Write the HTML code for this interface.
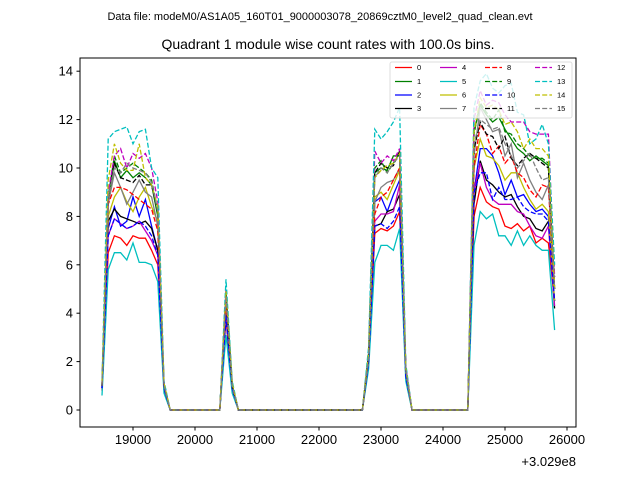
<!DOCTYPE html>
<html><head><meta charset="utf-8"><style>
body{margin:0;background:#fff;}
svg text{font-family:"Liberation Sans","DejaVu Sans",sans-serif;}
</style></head><body>
<svg id="chart" width="640" height="480" xmlns="http://www.w3.org/2000/svg">
<rect x="0" y="0" width="640" height="480" fill="#fff"/>
<text x="320" y="20" font-size="11" text-anchor="middle">Data file: modeM0/AS1A05_160T01_9000003078_20869cztM0_level2_quad_clean.evt</text>
<text x="328" y="49" font-size="14" text-anchor="middle">Quadrant 1 module wise count rates with 100.0s bins.</text>
<g id="grid"></g>
<g id="series"></g>
<rect x="80" y="58" width="496" height="369" fill="none" stroke="#000" stroke-width="1"/>
<g id="axes"></g>
<text x="576" y="466" font-size="13" text-anchor="end">+3.029e8</text>
<g id="legend"></g>
</svg>
<script>
const times=[18500,18600,18700,18800,18900,19000,19100,19200,19300,19400,19500,19600,20400,20500,20600,20700,22700,22800,22900,23000,23100,23200,23300,23400,23500,24400,24500,24600,24700,24800,24900,25000,25100,25200,25300,25400,25500,25600,25700,25800];
const xTicks=[19000,20000,21000,22000,23000,24000,25000,26000];
const yTicks=[0,2,4,6,8,10,12,14];
const labels=["0","1","2","3","4","5","6","7","8","9","10","11","12","13","14","15"];
const s0=[0.8,6.5,7.2,7.1,6.8,7.2,7.1,7.1,6.6,6.0,0.9,0,0,3.8,0.8,0,0,2.0,7.3,7.5,7.4,7.6,8.2,1.4,0,0,8.0,9.2,8.6,8.4,8.3,7.6,7.5,7.7,7.4,7.6,6.9,7.1,6.9,4.5];
const s1=[1.0,8.5,10.3,9.6,9.9,9.6,9.8,9.6,9.3,8.0,1.0,0,0,4.8,1.0,0,0,2.3,9.8,10.0,9.9,10.5,10.5,1.7,0,0,11.5,12.6,12.2,11.9,12.1,11.6,11.2,10.8,10.6,10.3,10.5,10.3,10.1,5.0];
const s2=[0.9,7.5,8.4,7.6,7.8,8.8,8.0,8.7,7.6,6.6,0.9,0,0,4.0,0.9,0,0,2.1,8.6,8.8,8.2,8.9,9.5,1.5,0,0,9.0,10.8,10.8,10.5,9.8,8.9,9.5,8.8,8.9,8.5,8.2,8.3,8.0,4.5];
const s3=[0.9,7.8,8.3,8.0,7.9,7.8,7.7,7.8,7.5,6.6,0.9,0,0,3.9,0.9,0,0,2.0,7.6,7.7,8.2,8.3,8.9,1.5,0,0,8.5,10.3,9.5,9.3,9.0,8.8,8.9,8.4,8.0,7.9,7.5,7.4,7.8,4.2];
const s4=[0.9,7.2,7.9,7.7,7.5,7.6,7.8,7.4,7.0,6.4,0.9,0,0,4.0,0.9,0,0,2.0,7.8,8.1,8.1,8.2,9.3,1.5,0,0,9.0,10.2,9.2,8.7,8.5,8.5,8.5,8.2,8.1,7.6,7.2,7.1,7.6,4.3];
const s5=[0.6,5.8,6.5,6.5,6.2,6.9,6.1,6.1,6.0,5.3,0.7,0,0,3.1,0.7,0,0,1.7,6.1,6.8,6.8,6.6,7.5,1.2,0,0,6.8,8.2,7.9,8.1,7.2,7.2,6.8,7.4,6.8,7.2,6.8,6.6,6.6,3.3];
const s6=[1.0,8.0,8.8,9.2,8.6,8.2,8.8,9.2,8.4,7.8,1.0,0,0,4.4,1.0,0,0,2.2,8.8,9.0,8.7,9.3,9.9,1.6,0,0,10.0,11.2,10.5,10.4,10.1,9.5,9.8,9.8,9.2,8.7,8.3,8.5,8.2,4.5];
const s7=[1.0,8.5,9.8,9.2,8.5,9.0,9.5,9.0,8.8,7.6,1.0,0,0,4.5,1.0,0,0,2.2,8.6,9.2,9.4,9.5,10.0,1.6,0,0,10.5,12.5,12.0,11.5,11.6,10.5,11.0,9.6,10.2,9.5,9.0,8.7,9.3,5.0];
const s8=[1.0,8.5,9.2,9.2,9.1,8.9,8.7,8.5,8.3,7.4,1.0,0,0,4.4,1.0,0,0,2.1,8.1,8.8,9.0,9.5,10.0,1.6,0,0,10.0,11.8,11.4,10.6,10.9,10.2,10.5,9.8,9.6,9.1,8.8,9.3,9.2,5.0];
const s9=[1.0,8.8,10.5,9.8,10.0,10.2,10.0,9.8,9.5,8.2,1.0,0,0,4.9,1.0,0,0,2.3,10.0,10.3,9.8,10.2,10.6,1.7,0,0,11.4,12.7,12.3,12.0,12.4,11.5,11.4,11.0,10.8,10.5,10.4,10.4,10.2,5.5];
const s10=[0.9,7.2,7.9,7.7,7.5,7.6,7.8,7.6,7.2,6.4,0.9,0,0,3.9,0.9,0,0,2.0,7.6,7.7,7.5,7.8,8.4,1.4,0,0,9.0,9.8,9.8,8.7,9.2,8.7,8.7,8.8,8.4,8.2,8.1,8.1,7.8,4.5];
const s11=[1.0,8.8,10.2,9.6,9.5,9.4,9.7,9.3,9.3,8.2,1.0,0,0,4.8,1.0,0,0,2.3,9.8,10.2,10.0,10.1,10.7,1.7,0,0,10.8,11.9,11.4,11.3,10.8,11.3,10.4,10.1,10.4,10.6,10.4,10.2,10.0,5.0];
const s12=[1.1,9.0,10.5,10.8,10.0,10.6,10.4,10.6,10.0,8.6,1.1,0,0,5.0,1.1,0,0,2.4,10.7,10.2,10.5,10.3,10.8,1.8,0,0,12.0,13.2,12.6,12.8,12.7,12.2,11.9,11.9,11.9,11.5,11.4,11.4,11.4,5.5];
const s13=[1.2,11.2,11.5,11.6,11.7,11.0,11.5,11.6,10.0,9.6,1.2,0,0,5.4,1.2,0,0,2.6,11.6,11.2,11.5,11.9,12.5,1.9,0,0,12.5,13.6,13.9,13.3,13.1,13.4,13.5,12.3,12.2,11.0,11.2,11.8,11.0,6.0];
const s14=[1.1,9.5,11.0,10.2,9.9,9.9,11.0,9.6,9.3,8.4,1.1,0,0,4.9,1.1,0,0,2.3,9.6,9.9,10.1,10.2,10.6,1.7,0,0,11.5,12.9,12.5,12.6,12.4,11.8,11.9,11.5,10.8,11.2,10.8,10.8,10.5,5.0];
const s15=[1.0,8.8,10.0,9.8,10.2,10.0,9.9,9.8,9.4,8.2,1.0,0,0,4.7,1.0,0,0,2.2,9.6,10.0,9.8,10.2,10.5,1.7,0,0,11.0,12.0,11.8,11.6,11.7,11.0,10.5,10.0,10.3,10.6,10.0,9.5,9.6,5.0];
const allSeries=[s0,s1,s2,s3,s4,s5,s6,s7,s8,s9,s10,s11,s12,s13,s14,s15];
const colors=["#ff0000","#008000","#0000ff","#000000","#bf00bf","#00bfbf","#bfbf00","#808080"];

const NS="http://www.w3.org/2000/svg";
function X(t){return 195+(t-20000)*0.062;}
function Y(v){return 410-v*24.2;}
function mk(tag,attrs,parent){const e=document.createElementNS(NS,tag);for(const k in attrs)e.setAttribute(k,attrs[k]);parent.appendChild(e);return e;}
const axes=document.getElementById('axes');
xTicks.forEach(t=>{
  const l=mk('line',{x1:X(t),x2:X(t),y1:427,y2:430.5,stroke:'#000'},axes);
  
  
  const tx=mk('text',{x:X(t),y:444,'font-size':13,'text-anchor':'middle'},axes);
  tx.textContent=t;
  
  
});
yTicks.forEach(v=>{
  const l=mk('line',{x1:76.5,x2:80,y1:Y(v),y2:Y(v),stroke:'#000'},axes);
  
  
  const tx=mk('text',{x:73,y:Y(v)+4.5,'font-size':13,'text-anchor':'end'},axes);
  tx.textContent=v;
  
  
});
const sg=document.getElementById('series');
allSeries.forEach((s,i)=>{
  const pts=s.map((v,j)=>X(times[j]).toFixed(1)+','+Y(v).toFixed(1)).join(' ');
  const p=mk('polyline',{points:pts,fill:'none',stroke:colors[i%8],'stroke-width':1.3},sg);
  if(i>=8)p.setAttribute('stroke-dasharray','5,2.2');
  
  
});
const lg=document.getElementById('legend');
const box=mk('rect',{x:390,y:62,width:182,height:56,fill:'#fff','fill-opacity':0.8,stroke:'#ddd',rx:2},lg);


const colX=[395,440,485,535];
const rowY=[67.5,81.5,95,108.5];
labels.forEach((lab,i)=>{
  const c=Math.floor(i/4),r=i%4;
  const x=colX[c],y=rowY[r];
  const l=mk('line',{x1:x,x2:x+17,y1:y,y2:y,stroke:colors[i%8],'stroke-width':1.3},lg);
  if(i>=8)l.setAttribute('stroke-dasharray','5,2.2');
  
  
  const t=mk('text',{x:x+22,y:y+2.5,'font-size':7.5},lg);
  t.textContent=lab;
  
  
});
</script>
</body></html>
